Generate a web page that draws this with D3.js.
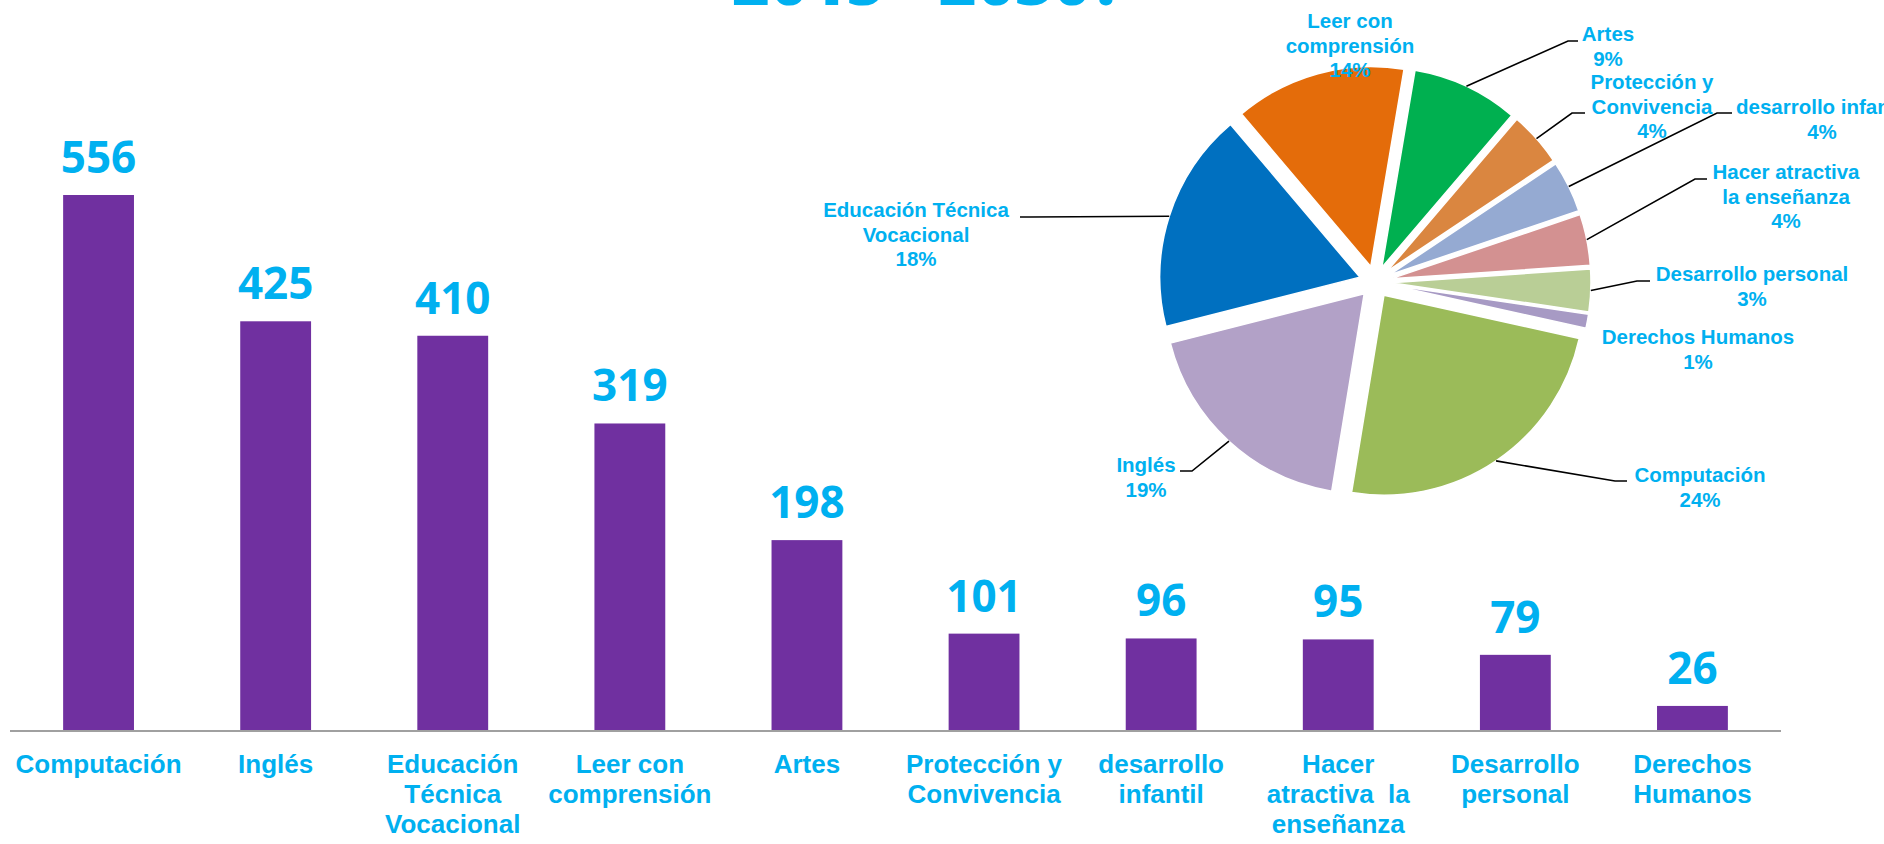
<!DOCTYPE html>
<html>
<head>
<meta charset="utf-8">
<script src="https://cdn.jsdelivr.net/npm/d3@7"></script>
<style>
  body { margin: 0; background: #fff; }
  svg { display: block; }
</style>
</head>
<body>
<svg id="chart" width="1884" height="844"></svg>
<script>
// data
const categories = ['Computación', 'Inglés', 'Educación Técnica Vocacional', 'Leer con comprensión', 'Artes',
    'Protección y Convivencia', 'desarrollo infantil', 'Hacer atractiva la enseñanza', 'Desarrollo personal', 'Derechos Humanos'];
const values = [556, 425, 410, 319, 198, 101, 96, 95, 79, 26];
const tickLabels = ['Computación', 'Inglés', 'Educación\nTécnica\nVocacional', 'Leer con\ncomprensión', 'Artes',
    'Protección y\nConvivencia', 'desarrollo\ninfantil', 'Hacer\natractiva  la\nenseñanza', 'Desarrollo\npersonal', 'Derechos\nHumanos'];
const pieLabels = ['Computación\n24%', 'Inglés\n19%', 'Educación Técnica\nVocacional\n18%', 'Leer con\ncomprensión\n14%',
    'Artes\n9%', 'Protección y\nConvivencia\n4%', 'desarrollo infantil\n4%', 'Hacer atractiva\nla enseñanza\n4%',
    'Desarrollo personal\n3%', 'Derechos Humanos\n1%'];
const sliceColors = ['#9BBB59', '#B2A1C7', '#0070C0', '#E46C0A', '#00B050', '#DA8640', '#95AAD2', '#D39191', '#B9CE96', '#A79AC4'];
const titleText = '2015 - 2030?';

// label layout for the pie (x = centre of text, y = centre of first line)
const pieLabelLayout = [
    { x: 1700, y: 475, lead: [[1615, 481], [1627, 481]] },
    { x: 1146, y: 465, lead: [[1192, 471], [1180, 471]] },
    { x: 916,  y: 210, lead: [[1030, 217], [1020, 217]] },
    { x: 1350, y: 21,  lead: null },
    { x: 1608, y: 34,  lead: [[1568, 41], [1578, 41]] },
    { x: 1652, y: 82,  lead: [[1572, 113], [1585, 113]] },
    { x: 1822, y: 107, lead: [[1717, 113], [1732, 113]] },
    { x: 1786, y: 172, lead: [[1695, 179], [1707, 179]] },
    { x: 1752, y: 274, lead: [[1637, 281], [1650, 281]] },
    { x: 1698, y: 337, lead: null }
];

const svg = d3.select('#chart');
const blue = '#00B0F0';

// title (mostly cut off at the top)
svg.append('text')
    .attr('x', 928).attr('y', 5)
    .attr('text-anchor', 'middle')
    .attr('font-family', 'Open Sans, sans-serif')
    .attr('font-weight', 800)
    .attr('font-size', 65)
    .attr('fill', blue)
    .text(titleText);

// ---- bar chart ----
const baseY = 731;
const x = d3.scaleBand()
    .domain(categories)
    .range([10, 1781])
    .paddingInner(0.6)
    .paddingOuter(0.3);

const y = d3.scaleLinear()
    .domain([0, 556])
    .range([baseY, 195]);

svg.append('g')
    .selectAll('rect')
    .data(values)
    .enter().append('rect')
    .attr('x', (d, i) => x(categories[i]))
    .attr('y', d => y(d))
    .attr('width', x.bandwidth())
    .attr('height', d => baseY - y(d))
    .attr('fill', '#7030A0');

svg.append('g')
    .selectAll('text')
    .data(values)
    .enter().append('text')
    .attr('x', (d, i) => x(categories[i]) + x.bandwidth() / 2)
    .attr('y', d => y(d) - 22)
    .attr('text-anchor', 'middle')
    .attr('font-family', 'Open Sans, sans-serif')
    .attr('font-weight', 700)
    .attr('font-size', 44)
    .attr('fill', blue)
    .text(d => d);

// category axis
const xAxis = svg.append('g')
    .attr('transform', `translate(0,${baseY})`)
    .call(d3.axisBottom(x).tickSize(0).tickFormat(''));
xAxis.select('.domain')
    .attr('d', 'M10,0H1781')
    .attr('stroke', '#A0A0A0')
    .attr('stroke-width', 2);

xAxis.selectAll('.tick').each(function(d, i) {
    const t = d3.select(this).append('text')
        .attr('text-anchor', 'middle')
        .attr('font-family', 'Liberation Sans, Arial, sans-serif')
        .attr('font-weight', 700)
        .attr('font-size', 26)
        .attr('fill', blue)
        .style('white-space', 'pre');
    tickLabels[i].split('\n').forEach((line, j) => {
        t.append('tspan').attr('x', 0).attr('y', 42 + j * 30).text(line);
    });
});

// ---- pie chart ----
const cx = 1375, cy = 282, r = 200, explode = 16;
const startA = 102.5 * Math.PI / 180;
const pie = d3.pie().sort(null).startAngle(startA).endAngle(startA + 2 * Math.PI);
const arc = d3.arc().innerRadius(0).outerRadius(r);
const arcs = pie(values);
const mid = d => (d.startAngle + d.endAngle) / 2;

const pieG = svg.append('g').attr('transform', `translate(${cx},${cy})`);
pieG.selectAll('path')
    .data(arcs)
    .enter().append('path')
    .attr('d', arc)
    .attr('transform', d => `translate(${explode * Math.sin(mid(d))},${-explode * Math.cos(mid(d))})`)
    .attr('fill', (d, i) => sliceColors[i])
    .attr('stroke', '#fff')
    .attr('stroke-width', 1.5);

// leader lines
svg.append('g')
    .selectAll('path')
    .data(arcs.filter((d, i) => pieLabelLayout[i].lead))
    .enter().append('path')
    .attr('d', d => {
        const a = mid(d);
        const p0 = [cx + (r + explode) * Math.sin(a), cy - (r + explode) * Math.cos(a)];
        return d3.line()([p0].concat(pieLabelLayout[d.index].lead));
    })
    .attr('fill', 'none')
    .attr('stroke', '#000')
    .attr('stroke-width', 1.6);

// pie labels
const pl = svg.append('g')
    .selectAll('text')
    .data(pieLabels)
    .enter().append('text')
    .attr('text-anchor', 'middle')
    .attr('font-family', 'Liberation Sans, Arial, sans-serif')
    .attr('font-weight', 700)
    .attr('font-size', 20.5)
    .attr('fill', blue);
pl.each(function(d, i) {
    const lay = pieLabelLayout[i];
    d.split('\n').forEach((line, j) => {
        d3.select(this).append('tspan')
            .attr('x', lay.x)
            .attr('y', lay.y + 7 + j * 24.5)
            .text(line);
    });
});
</script>
</body>
</html>
